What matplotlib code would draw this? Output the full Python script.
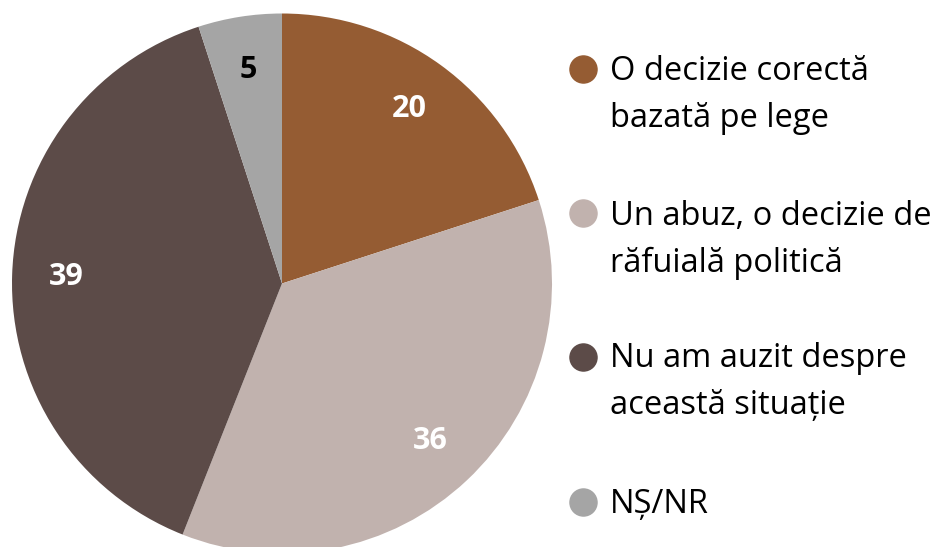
import matplotlib
matplotlib.use("Agg")
import matplotlib.pyplot as plt

categories = ["O decizie corectă\nbazată pe lege",
              "Un abuz, o decizie de\nrăfuială politică",
              "Nu am auzit despre\naceastă situație",
              "NȘ/NR"]
values = [20, 36, 39, 5]
colors = ["#955C33", "#C1B2AE", "#5C4B48", "#A5A5A5"]
label_colors = ["white", "white", "white", "black"]

W, H = 937, 547
fig = plt.figure(figsize=(W / 100, H / 100), dpi=100)
plt.rcParams['font.family'] = ['Open Sans', 'DejaVu Sans']

cx, cy, r = 282, 283.5, 270
ax = fig.add_axes([(cx - r) / W, (H - cy - r) / H, 2 * r / W, 2 * r / H])
wedges, texts, autotexts = ax.pie(values, colors=colors, startangle=90, counterclock=False,
                                  autopct=lambda p: f"{p:.0f}", pctdistance=0.8,
                                  radius=1, wedgeprops=dict(linewidth=0),
                                  textprops=dict(fontsize=22, fontweight="bold"))
for t, c in zip(autotexts, label_colors):
    t.set_color(c)
ax.set_xlim(-1, 1)
ax.set_ylim(-1, 1)
ax.set_aspect("equal")
ax.axis("off")

# legend (manual, markers aligned with first line)
marker_x, text_x = 583, 610
marker_y = [69, 213, 357, 502]
baseline_y = [80, 225, 367, 513]
line_gap = 47
for lab, col, my, by in zip(categories, colors, marker_y, baseline_y):
    fig.lines.append(matplotlib.lines.Line2D([marker_x / W], [1 - my / H], marker="o",
                                             markersize=19.5, color=col, linestyle="none",
                                             transform=fig.transFigure))
    for i, line in enumerate(lab.split("\n")):
        fig.text(text_x / W, 1 - (by + i * line_gap) / H, line, fontsize=23.5,
                 color="black", va="baseline", ha="left")

fig.savefig("out.png", dpi=100)
